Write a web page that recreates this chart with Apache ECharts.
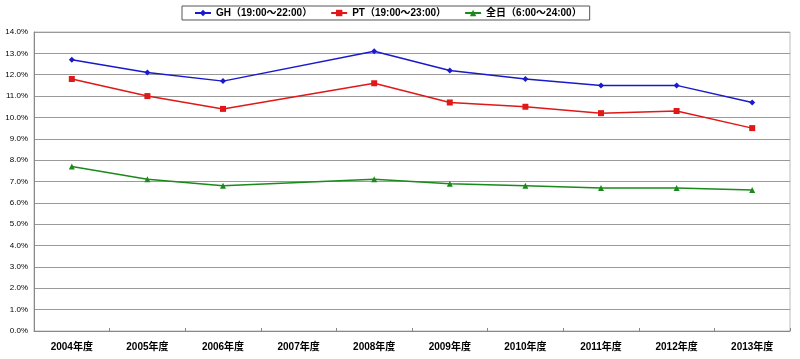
<!DOCTYPE html>
<html><head><meta charset="utf-8">
<script src="https://cdn.jsdelivr.net/npm/echarts@6/dist/echarts.min.js"></script>
<style>html,body{margin:0;padding:0;background:#fff}#c{width:800px;height:359px}</style>
</head><body><div id="c"></div>
<script>
var categories = ['2004年度','2005年度','2006年度','2007年度','2008年度','2009年度','2010年度','2011年度','2012年度','2013年度'];
var seriesNames = ['GH（19:00～22:00）','PT（19:00～23:00）','全日（6:00～24:00）'];
var ghValues = [12.7, 12.1, 11.7, null, 13.1, 12.2, 11.8, 11.5, 11.5, 10.7];
var ptValues = [11.8, 11.0, 10.4, null, 11.6, 10.7, 10.5, 10.2, 10.3, 9.5];
var allDayValues = [7.7, 7.1, 6.8, null, 7.1, 6.9, 6.8, 6.7, 6.7, 6.6];

var font = "'Liberation Sans','Noto Sans CJK JP',sans-serif";
var chart = echarts.init(document.getElementById('c'));
function mk(name, data, color, symbol, size) {
  return {
    name: name, type: 'line', data: data, connectNulls: true,
    symbol: symbol, symbolSize: size, showSymbol: true,
    lineStyle: {color: color, width: 1.5},
    itemStyle: {color: color},
    emphasis: {disabled: true}, animation: false
  };
}
chart.setOption({
  animation: false,
  backgroundColor: '#fff',
  legend: {
    top: 6, left: 182,
    padding: [2, 8, 2, 12],
    borderColor: '#555', borderWidth: 1,
    itemWidth: 16, itemHeight: 8, itemGap: 18,
    textStyle: {fontFamily: font, fontSize: 10, fontWeight: 'bold', color: '#000'},
    data: seriesNames
  },
  grid: {left: 34, right: 10, top: 32, bottom: 28, show: true, borderColor: '#bbb', borderWidth: 1},
  xAxis: {
    type: 'category', data: categories, boundaryGap: true,
    axisLine: {lineStyle: {color: '#888', width: 1}},
    axisTick: {show: true, inside: true, length: 3, lineStyle: {color: '#888'}},
    axisLabel: {fontFamily: font, fontSize: 10, fontWeight: 'bold', color: '#000', margin: 11},
    splitLine: {show: false}
  },
  yAxis: {
    type: 'value', min: 0, max: 14, interval: 1,
    axisLine: {show: true, lineStyle: {color: '#888'}},
    axisTick: {show: false},
    axisLabel: {fontFamily: font, fontSize: 8, color: '#000', margin: 6,
      formatter: function (v) { return v.toFixed(1) + '%'; }},
    splitLine: {lineStyle: {color: '#999', width: 1}}
  },
  series: [
    mk(seriesNames[0], ghValues, '#1a1acc', 'diamond', 6),
    mk(seriesNames[1], ptValues, '#e01818', 'rect', 6),
    mk(seriesNames[2], allDayValues, '#1a8a1a', 'triangle', 6)
  ]
});
</script></body></html>
